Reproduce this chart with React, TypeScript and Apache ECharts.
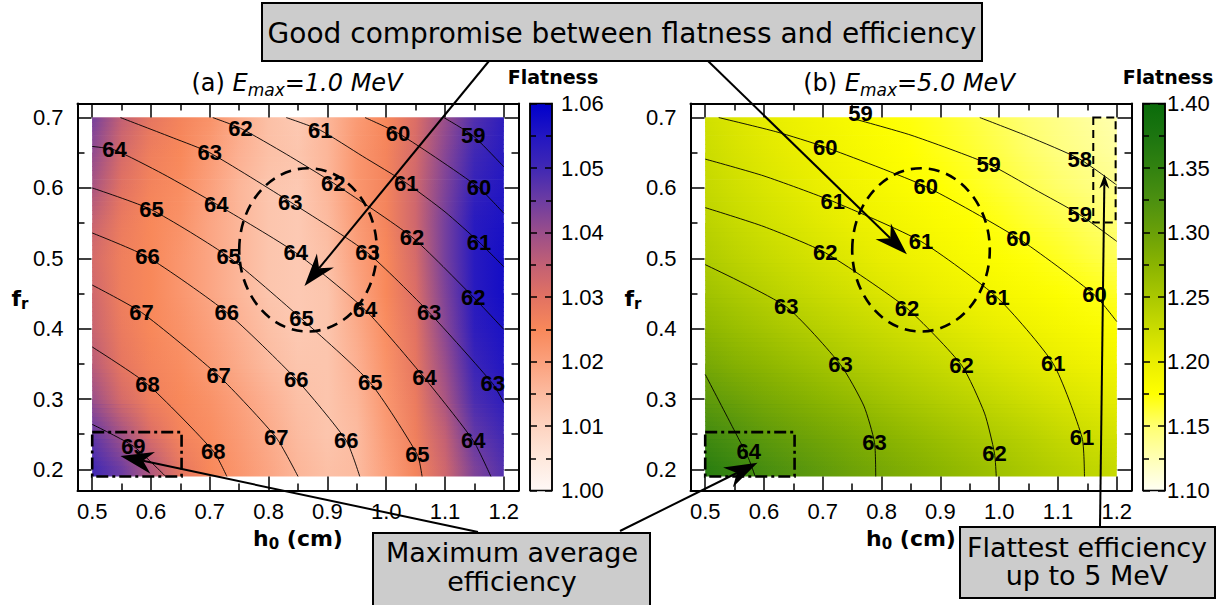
import React, { useEffect, useRef } from 'react';
import * as echarts from 'echarts';

// ---------- data ----------
const H_GRID = [0.5, 0.55, 0.6, 0.65, 0.7, 0.75, 0.8, 0.85, 0.9, 0.95, 1.0, 1.05, 1.1, 1.15, 1.2];
const F_GRID = [0.2, 0.25, 0.3, 0.35, 0.4, 0.45, 0.5, 0.55, 0.6, 0.65, 0.7];

// flatness, panel (a): rows = F_GRID, columns = H_GRID
const FLATNESS_A = [
  [1.050, 1.045, 1.037, 1.029, 1.025, 1.022, 1.019, 1.016, 1.014, 1.015, 1.020, 1.026, 1.033, 1.043, 1.048],
  [1.046, 1.039, 1.031, 1.026, 1.024, 1.021, 1.018, 1.015, 1.013, 1.015, 1.021, 1.027, 1.035, 1.046, 1.050],
  [1.040, 1.032, 1.027, 1.025, 1.023, 1.020, 1.017, 1.014, 1.013, 1.016, 1.022, 1.028, 1.038, 1.049, 1.053],
  [1.036, 1.029, 1.026, 1.024, 1.021, 1.018, 1.015, 1.013, 1.013, 1.017, 1.023, 1.029, 1.040, 1.051, 1.055],
  [1.034, 1.028, 1.025, 1.023, 1.020, 1.017, 1.014, 1.012, 1.013, 1.018, 1.024, 1.030, 1.042, 1.053, 1.056],
  [1.033, 1.027, 1.025, 1.022, 1.019, 1.016, 1.013, 1.012, 1.013, 1.019, 1.025, 1.031, 1.043, 1.054, 1.057],
  [1.032, 1.027, 1.025, 1.022, 1.019, 1.016, 1.013, 1.012, 1.014, 1.020, 1.025, 1.032, 1.044, 1.054, 1.057],
  [1.034, 1.028, 1.025, 1.023, 1.019, 1.016, 1.013, 1.012, 1.015, 1.021, 1.026, 1.033, 1.044, 1.054, 1.056],
  [1.038, 1.030, 1.026, 1.024, 1.020, 1.016, 1.013, 1.012, 1.016, 1.022, 1.026, 1.033, 1.043, 1.052, 1.055],
  [1.041, 1.032, 1.027, 1.025, 1.021, 1.017, 1.014, 1.013, 1.016, 1.022, 1.026, 1.032, 1.042, 1.050, 1.054],
  [1.044, 1.035, 1.029, 1.026, 1.023, 1.018, 1.014, 1.012, 1.016, 1.021, 1.025, 1.031, 1.040, 1.048, 1.053],
];

// flatness, panel (b)
const FLATNESS_B = [
  [1.360, 1.345, 1.330, 1.318, 1.308, 1.298, 1.290, 1.282, 1.274, 1.266, 1.258, 1.250, 1.242, 1.235, 1.228],
  [1.335, 1.322, 1.310, 1.300, 1.292, 1.284, 1.276, 1.268, 1.260, 1.252, 1.245, 1.238, 1.230, 1.223, 1.217],
  [1.310, 1.300, 1.290, 1.282, 1.274, 1.266, 1.258, 1.250, 1.243, 1.236, 1.229, 1.222, 1.215, 1.209, 1.203],
  [1.290, 1.280, 1.272, 1.264, 1.256, 1.248, 1.241, 1.234, 1.227, 1.220, 1.213, 1.207, 1.201, 1.195, 1.190],
  [1.272, 1.263, 1.255, 1.247, 1.240, 1.233, 1.226, 1.219, 1.212, 1.206, 1.200, 1.194, 1.188, 1.183, 1.178],
  [1.258, 1.249, 1.241, 1.233, 1.226, 1.219, 1.212, 1.205, 1.199, 1.193, 1.187, 1.182, 1.177, 1.172, 1.167],
  [1.246, 1.237, 1.229, 1.222, 1.215, 1.208, 1.201, 1.195, 1.189, 1.183, 1.178, 1.173, 1.168, 1.162, 1.157],
  [1.237, 1.228, 1.220, 1.213, 1.206, 1.199, 1.193, 1.187, 1.181, 1.176, 1.171, 1.165, 1.160, 1.154, 1.148],
  [1.230, 1.221, 1.213, 1.206, 1.199, 1.192, 1.186, 1.180, 1.175, 1.170, 1.164, 1.158, 1.152, 1.146, 1.140],
  [1.225, 1.216, 1.208, 1.201, 1.194, 1.187, 1.181, 1.175, 1.170, 1.165, 1.159, 1.152, 1.145, 1.139, 1.132],
  [1.220, 1.211, 1.203, 1.196, 1.189, 1.183, 1.177, 1.172, 1.167, 1.161, 1.155, 1.148, 1.141, 1.134, 1.127],
];

// efficiency contours [level, points [h0, fr]]
const CONTOURS_A: [number, number[][]][] = [
  [59, [[1.098, 0.70], [1.148, 0.674], [1.20, 0.630]]],
  [60, [[0.964, 0.70], [1.020, 0.678], [1.090, 0.640], [1.158, 0.600], [1.20, 0.564]]],
  [61, [[0.830, 0.70], [0.888, 0.682], [0.960, 0.645], [1.034, 0.607], [1.100, 0.566], [1.158, 0.523], [1.20, 0.488]]],
  [62, [[0.705, 0.70], [0.752, 0.685], [0.830, 0.648], [0.910, 0.607], [1.044, 0.530], [1.148, 0.445], [1.20, 0.399]]],
  [63, [[0.548, 0.70], [0.638, 0.671], [0.700, 0.650], [0.837, 0.580], [0.968, 0.508], [1.073, 0.423], [1.181, 0.322], [1.20, 0.295]]],
  [64, [[0.50, 0.659], [0.538, 0.654], [0.620, 0.620], [0.711, 0.577], [0.846, 0.508], [0.964, 0.427], [1.065, 0.330], [1.148, 0.241], [1.178, 0.19]]],
  [65, [[0.50, 0.600], [0.601, 0.569], [0.732, 0.502], [0.856, 0.414], [0.973, 0.323], [1.053, 0.221], [1.061, 0.19]]],
  [66, [[0.50, 0.536], [0.594, 0.502], [0.729, 0.423], [0.847, 0.328], [0.932, 0.241], [0.955, 0.19]]],
  [67, [[0.50, 0.462], [0.584, 0.423], [0.715, 0.333], [0.813, 0.245], [0.850, 0.19]]],
  [68, [[0.50, 0.374], [0.594, 0.321], [0.706, 0.226], [0.729, 0.19]]],
  [69, [[0.50, 0.264], [0.570, 0.233], [0.625, 0.19]]],
];

const CONTOURS_B: [number, number[][]][] = [
  [58, [[0.967, 0.70], [1.050, 0.673], [1.137, 0.641], [1.20, 0.604]]],
  [59, [[0.745, 0.70], [0.850, 0.675], [0.982, 0.634], [1.060, 0.598], [1.137, 0.562], [1.20, 0.524]]],
  [60, [[0.523, 0.70], [0.620, 0.680], [0.704, 0.658], [0.875, 0.602], [1.033, 0.528], [1.162, 0.448], [1.20, 0.410]]],
  [61, [[0.50, 0.641], [0.600, 0.617], [0.717, 0.581], [0.867, 0.524], [0.997, 0.444], [1.092, 0.350], [1.141, 0.245], [1.145, 0.19]]],
  [62, [[0.50, 0.572], [0.600, 0.545], [0.704, 0.508], [0.843, 0.429], [0.936, 0.348], [0.975, 0.280], [0.992, 0.223], [0.995, 0.19]]],
  [63, [[0.50, 0.491], [0.638, 0.431], [0.730, 0.349], [0.770, 0.290], [0.788, 0.238], [0.790, 0.19]]],
  [64, [[0.50, 0.335], [0.546, 0.261], [0.574, 0.215], [0.585, 0.19]]],
];

// contour labels [h0, fr, level]
const LABELS_A = [
  [0.752, 0.685, 62], [0.888, 0.682, 61], [1.020, 0.678, 60], [1.148, 0.674, 59],
  [0.538, 0.654, 64], [0.700, 0.650, 63],
  [0.910, 0.607, 62], [1.034, 0.607, 61], [1.158, 0.600, 60],
  [0.601, 0.569, 65], [0.711, 0.577, 64], [0.837, 0.580, 63],
  [1.044, 0.530, 62], [1.158, 0.523, 61],
  [0.594, 0.502, 66], [0.732, 0.502, 65], [0.846, 0.508, 64], [0.968, 0.508, 63],
  [1.148, 0.445, 62],
  [0.584, 0.423, 67], [0.729, 0.423, 66], [0.856, 0.414, 65], [0.964, 0.427, 64], [1.073, 0.423, 63],
  [0.594, 0.321, 68], [0.715, 0.333, 67], [0.847, 0.328, 66], [0.973, 0.323, 65], [1.065, 0.330, 64], [1.181, 0.322, 63],
  [0.570, 0.233, 69], [0.706, 0.226, 68], [0.813, 0.245, 67], [0.932, 0.241, 66], [1.053, 0.221, 65], [1.148, 0.241, 64],
];

const LABELS_B = [
  [0.764, 0.706, 59], [0.704, 0.658, 60], [0.982, 0.634, 59], [1.137, 0.641, 58],
  [0.875, 0.602, 60], [0.717, 0.581, 61], [1.137, 0.562, 59],
  [0.867, 0.524, 61], [1.033, 0.528, 60], [0.704, 0.508, 62],
  [0.997, 0.444, 61], [1.162, 0.448, 60], [0.638, 0.431, 63], [0.843, 0.429, 62],
  [0.730, 0.349, 63], [0.936, 0.348, 62], [1.092, 0.350, 61],
  [0.788, 0.238, 63], [0.992, 0.223, 62], [1.141, 0.245, 61], [0.574, 0.226, 64],
];

const X_MAJOR = [0.5, 0.6, 0.7, 0.8, 0.9, 1.0, 1.1, 1.2];
const X_MINOR = [0.55, 0.65, 0.75, 0.85, 0.95, 1.05, 1.15];
const Y_MAJOR = [0.2, 0.3, 0.4, 0.5, 0.6, 0.7];
const Y_MINOR = [0.25, 0.35, 0.45, 0.55, 0.65];

const PALETTE_A: [number, string][] = [
  [1.000, '#fff8f6'], [1.005, '#fee8dc'], [1.010, '#fdd3c0'], [1.015, '#fcbba0'],
  [1.020, '#fba07c'], [1.025, '#f8885a'], [1.030, '#e27262'], [1.035, '#c26074'],
  [1.040, '#9a4e8a'], [1.045, '#6c3ca2'], [1.050, '#4028b4'], [1.055, '#2216c2'], [1.060, '#0000cc'],
];
const PALETTE_B: [number, string][] = [
  [1.100, '#fffff4'], [1.125, '#ffffb4'], [1.150, '#ffff70'], [1.175, '#ffff00'],
  [1.200, '#eaee00'], [1.225, '#cadc00'], [1.250, '#aac800'], [1.275, '#8ab400'],
  [1.300, '#6aa008'], [1.325, '#4c9010'], [1.350, '#328210'], [1.375, '#1c7510'], [1.400, '#0a6b0a'],
];

// ---------- helpers ----------
const SANS = "'Liberation Sans', Arial, sans-serif";
const NARROW = "'Liberation Sans Narrow', 'Liberation Sans', Arial, sans-serif";
const DEJAVU = "'DejaVu Sans', sans-serif";
const HEAT_BOTTOM = 0.19;
const SUB = 8;

function hexRgb(h: string) {
  const n = parseInt(h.slice(1), 16);
  return [(n >> 16) & 255, (n >> 8) & 255, n & 255];
}
function colorAt(pal: [number, string][], v: number) {
  if (v <= pal[0][0]) return pal[0][1];
  for (let i = 1; i < pal.length; i++) {
    if (v <= pal[i][0]) {
      const t = (v - pal[i - 1][0]) / (pal[i][0] - pal[i - 1][0]);
      const a = hexRgb(pal[i - 1][1]);
      const b = hexRgb(pal[i][1]);
      const c = a.map((x, k) => Math.round(x + (b[k] - x) * t));
      return `rgb(${c[0]},${c[1]},${c[2]})`;
    }
  }
  return pal[pal.length - 1][1];
}

function heatRender(table: number[][], pal: [number, string][]) {
  const grads = table.map(
    (row) =>
      new echarts.graphic.LinearGradient(
        0, 0, 1, 0,
        row.map((v, j) => ({ offset: j / (row.length - 1), color: colorAt(pal, v) }))
      )
  );
  return (params: any, api: any) => {
    const i = api.value(0);
    const h0 = H_GRID[0];
    const h1 = H_GRID[H_GRID.length - 1];
    const x0 = api.coord([h0, F_GRID[0]])[0];
    const x1 = api.coord([h1, F_GRID[0]])[0];
    const w = x1 - x0;
    const children: any[] = [];
    if (i === 0) {
      const yA = api.coord([h0, F_GRID[0]])[1];
      const yB = api.coord([h0, HEAT_BOTTOM])[1];
      children.push({ type: 'rect', shape: { x: x0, y: yA - 0.5, width: w, height: yB - yA + 0.5 }, style: { fill: grads[0] } });
    }
    if (i < F_GRID.length - 1) {
      const fa = F_GRID[i];
      const fb = F_GRID[i + 1];
      for (let k = 0; k < SUB; k++) {
        const lo = fa + ((fb - fa) * k) / SUB;
        const hi = fa + ((fb - fa) * (k + 1)) / SUB;
        const yHi = api.coord([h0, hi])[1];
        const yLo = api.coord([h0, lo])[1];
        const shape = { x: x0, y: yHi, width: w, height: yLo - yHi + 0.7 };
        children.push({ type: 'rect', shape, style: { fill: grads[i] } });
        children.push({ type: 'rect', shape: { ...shape }, style: { fill: grads[i + 1], opacity: (k + 0.5) / SUB } });
      }
    }
    return { type: 'group', children };
  };
}

function cbarRender(pal: [number, string][], min: number, max: number) {
  const grad = new echarts.graphic.LinearGradient(
    0, 1, 0, 0,
    pal.map(([v, c]) => ({ offset: (v - min) / (max - min), color: c }))
  );
  return (params: any, api: any) => {
    const p0 = api.coord([0, max]);
    const p1 = api.coord([1, min]);
    return {
      type: 'rect',
      shape: { x: p0[0], y: p0[1], width: p1[0] - p0[0], height: p1[1] - p0[1] },
      style: { fill: grad, stroke: '#000', lineWidth: 1.5 },
    };
  };
}

const lineBlack = { color: '#000', width: 2 };
const tickBlack = { color: '#000', width: 1.5 };

function panelXAxes(gridIndex: number) {
  const c = { gridIndex, type: 'value', min: 0.475, max: 1.225, splitLine: { show: false }, z: 5 };
  return [
    {
      ...c, position: 'bottom',
      axisLine: { show: true, onZero: false, lineStyle: lineBlack },
      axisTick: { show: true, inside: true, length: 14, customValues: X_MAJOR, lineStyle: tickBlack },
      axisLabel: { show: true, customValues: X_MAJOR, formatter: (v: number) => v.toFixed(1), fontSize: 22, fontFamily: SANS, color: '#000', margin: 10 },
    },
    {
      ...c, position: 'top',
      axisLine: { show: true, onZero: false, lineStyle: lineBlack },
      axisTick: { show: true, inside: true, length: 14, customValues: X_MAJOR, lineStyle: tickBlack },
      axisLabel: { show: false },
    },
    {
      ...c, position: 'bottom',
      axisLine: { show: false, onZero: false },
      axisTick: { show: true, inside: true, length: 7, customValues: X_MINOR, lineStyle: tickBlack },
      axisLabel: { show: false },
    },
    {
      ...c, position: 'top',
      axisLine: { show: false, onZero: false },
      axisTick: { show: true, inside: true, length: 7, customValues: X_MINOR, lineStyle: tickBlack },
      axisLabel: { show: false },
    },
  ];
}

function panelYAxes(gridIndex: number) {
  const c = { gridIndex, type: 'value', min: 0.17, max: 0.72, splitLine: { show: false }, z: 5 };
  return [
    {
      ...c, position: 'left',
      axisLine: { show: true, onZero: false, lineStyle: lineBlack },
      axisTick: { show: true, inside: true, length: 14, customValues: Y_MAJOR, lineStyle: tickBlack },
      axisLabel: { show: true, customValues: Y_MAJOR, formatter: (v: number) => v.toFixed(1), fontSize: 22, fontFamily: SANS, color: '#000', margin: 14 },
    },
    {
      ...c, position: 'right',
      axisLine: { show: true, onZero: false, lineStyle: lineBlack },
      axisTick: { show: true, inside: true, length: 14, customValues: Y_MAJOR, lineStyle: tickBlack },
      axisLabel: { show: false },
    },
    {
      ...c, position: 'left',
      axisLine: { show: false, onZero: false },
      axisTick: { show: true, inside: true, length: 7, customValues: Y_MINOR, lineStyle: tickBlack },
      axisLabel: { show: false },
    },
    {
      ...c, position: 'right',
      axisLine: { show: false, onZero: false },
      axisTick: { show: true, inside: true, length: 7, customValues: Y_MINOR, lineStyle: tickBlack },
      axisLabel: { show: false },
    },
  ];
}

function cbarYAxes(gridIndex: number, min: number, max: number, interval: number, margin: number) {
  const c = {
    gridIndex, type: 'value', min, max, interval, splitLine: { show: false }, z: 5,
    axisLine: { show: true, onZero: false, lineStyle: { color: '#000', width: 1.5 } },
    axisTick: { show: true, inside: true, length: 7, lineStyle: tickBlack },
    minorTick: { show: true, splitNumber: 2, length: 6, lineStyle: tickBlack },
    minorSplitLine: { show: false },
  };
  return [
    { ...c, position: 'right', axisLabel: { show: true, formatter: (v: number) => v.toFixed(2), fontSize: 22, fontFamily: SANS, color: '#000', margin } },
    { ...c, position: 'left', axisLabel: { show: false } },
  ];
}

function contourSeries(list: [number, number[][]][], xi: number, yi: number) {
  return list.map(([level, pts]) => ({
    type: 'line', name: `eff ${level}`, xAxisIndex: xi, yAxisIndex: yi, data: pts,
    symbol: 'none', showSymbol: false, smooth: 0.2, silent: true, z: 3,
    lineStyle: { color: '#000', width: 0.9 },
  }));
}

function labelSeries(list: number[][], xi: number, yi: number) {
  return {
    type: 'custom', xAxisIndex: xi, yAxisIndex: yi, data: list, silent: true, z: 4,
    renderItem: (params: any, api: any) => {
      const c = api.coord([api.value(0), api.value(1)]);
      return {
        type: 'text', x: c[0], y: c[1],
        style: {
          text: String(api.value(2)), fill: '#000', fontFamily: NARROW, fontWeight: 'bold', fontSize: 22,
          align: 'center', verticalAlign: 'middle', textAlign: 'center', textVerticalAlign: 'middle',
        },
      };
    },
  };
}

function buildOption() {
  const rows = F_GRID.map((f, i) => [i]);
  return {
    animation: false,
    backgroundColor: '#ffffff',
    grid: [
      { left: 77.5, top: 103.5, width: 441, height: 387 },
      { left: 530, top: 103.5, width: 22, height: 387 },
      { left: 690.5, top: 103.5, width: 441, height: 387 },
      { left: 1143, top: 103.5, width: 22, height: 387 },
    ],
    xAxis: [
      ...panelXAxes(0),
      { gridIndex: 1, type: 'value', min: 0, max: 1, show: false },
      ...panelXAxes(2),
      { gridIndex: 3, type: 'value', min: 0, max: 1, show: false },
    ],
    yAxis: [
      ...panelYAxes(0),
      ...cbarYAxes(1, 1.0, 1.06, 0.01, 9),
      ...panelYAxes(2),
      ...cbarYAxes(3, 1.1, 1.4, 0.05, 2),
    ],
    series: [
      { type: 'custom', name: 'flatness a', xAxisIndex: 0, yAxisIndex: 0, data: rows, renderItem: heatRender(FLATNESS_A, PALETTE_A), silent: true, z: 1 },
      ...contourSeries(CONTOURS_A, 0, 0),
      labelSeries(LABELS_A, 0, 0),
      { type: 'custom', name: 'cbar a', xAxisIndex: 4, yAxisIndex: 4, data: [[0]], renderItem: cbarRender(PALETTE_A, 1.0, 1.06), silent: true, z: 1 },
      { type: 'custom', name: 'flatness b', xAxisIndex: 5, yAxisIndex: 6, data: rows, renderItem: heatRender(FLATNESS_B, PALETTE_B), silent: true, z: 1 },
      ...contourSeries(CONTOURS_B, 5, 6),
      labelSeries(LABELS_B, 5, 6),
      { type: 'custom', name: 'cbar b', xAxisIndex: 9, yAxisIndex: 10, data: [[0]], renderItem: cbarRender(PALETTE_B, 1.1, 1.4), silent: true, z: 1 },
    ],
  };
}

// ---------- annotations ----------
function arrowEls(sx: number, sy: number, tx: number, ty: number, L: number, W: number) {
  const dx = sx - tx;
  const dy = sy - ty;
  const len = Math.hypot(dx, dy);
  const ux = dx / len;
  const uy = dy / len;
  const nx = -uy;
  const ny = ux;
  const bx = tx + ux * L;
  const by = ty + uy * L;
  const notch = [tx + ux * L * 0.7, ty + uy * L * 0.7];
  return [
    { type: 'line', z: 100, shape: { x1: sx, y1: sy, x2: notch[0], y2: notch[1] }, style: { stroke: '#000', lineWidth: 2 } },
    { type: 'polygon', z: 100, shape: { points: [[tx, ty], [bx + nx * W, by + ny * W], notch, [bx - nx * W, by - ny * W]] }, style: { fill: '#000' } },
  ];
}

function textEl(x: number, y: number, text: string, extra: any) {
  return {
    type: 'text', x, y, z: 102,
    style: { text, fill: '#000', align: 'center', verticalAlign: 'middle', textAlign: 'center', textVerticalAlign: 'middle', ...extra },
  };
}

function buildGraphics(chart: any) {
  const pa = (p: number[]) => chart.convertToPixel({ xAxisIndex: 0, yAxisIndex: 0 }, p);
  const pb = (p: number[]) => chart.convertToPixel({ xAxisIndex: 5, yAxisIndex: 6 }, p);
  const els: any[] = [];

  const circle = (conv: any) => {
    const c = conv([0.867, 0.512]);
    const e = conv([0.867 + 0.117, 0.512 + 0.116]);
    return { type: 'ellipse', z: 99, shape: { cx: c[0], cy: c[1], rx: e[0] - c[0], ry: c[1] - e[1] }, style: { fill: 'none', stroke: '#000', lineWidth: 2.6, lineDash: [11, 7] } };
  };
  const box = (conv: any, a: number[], b: number[], dash: number[], lw: number) => {
    const p = conv(a);
    const q = conv(b);
    return { type: 'rect', z: 99, shape: { x: p[0], y: p[1], width: q[0] - p[0], height: q[1] - p[1] }, style: { fill: 'none', stroke: '#000', lineWidth: lw, lineDash: dash } };
  };
  els.push(circle(pa), circle(pb));
  els.push(box(pa, [0.5, 0.253], [0.652, 0.19], [12, 4, 3, 4], 2.6));
  els.push(box(pb, [0.5, 0.253], [0.652, 0.19], [12, 4, 3, 4], 2.6));
  els.push(box(pb, [1.16, 0.70], [1.198, 0.551], [8, 5], 2));

  const tA1 = pa([0.861, 0.4605]);
  const tB1 = pb([0.843, 0.5056]);
  const tA2 = pa([0.548, 0.219]);
  const tB2 = pb([0.589, 0.2095]);
  const tB3 = pb([1.179, 0.619]);
  els.push(...arrowEls(489, 61, tA1[0], tA1[1], 33, 11));
  els.push(...arrowEls(708, 61, tB1[0], tB1[1], 33, 11));
  els.push(...arrowEls(478, 532, tA2[0], tA2[1], 33, 11));
  els.push(...arrowEls(620, 531, tB2[0], tB2[1], 33, 11));
  els.push(...arrowEls(1100, 527, tB3[0], tB3[1], 14, 5));

  // boxes
  els.push({ type: 'rect', z: 101, shape: { x: 262, y: 3, width: 720, height: 58 }, style: { fill: '#cccccc', stroke: '#000', lineWidth: 2 } });
  els.push(textEl(622, 33, 'Good compromise between flatness and efficiency', { fontFamily: DEJAVU, fontSize: 28 }));
  els.push({ type: 'rect', z: 101, shape: { x: 373, y: 533, width: 277, height: 80 }, style: { fill: '#cccccc', stroke: '#000', lineWidth: 2 } });
  els.push(textEl(512, 552, 'Maximum average', { fontFamily: DEJAVU, fontSize: 27 }));
  els.push(textEl(512, 581, 'efficiency', { fontFamily: DEJAVU, fontSize: 27 }));
  els.push({ type: 'rect', z: 101, shape: { x: 960, y: 527, width: 255, height: 71 }, style: { fill: '#cccccc', stroke: '#000', lineWidth: 2 } });
  els.push(textEl(1087, 547, 'Flattest efficiency', { fontFamily: DEJAVU, fontSize: 27 }));
  els.push(textEl(1087, 575, 'up to 5 MeV', { fontFamily: DEJAVU, fontSize: 27 }));

  // titles
  const titleRich = {
    n: { fontFamily: DEJAVU, fontSize: 24, lineHeight: 30, fill: '#000' },
    i: { fontFamily: DEJAVU, fontSize: 24, fontStyle: 'italic', lineHeight: 30, fill: '#000' },
    s: { fontFamily: DEJAVU, fontSize: 17, fontStyle: 'italic', lineHeight: 18, verticalAlign: 'bottom', fill: '#000' },
  };
  els.push(textEl(297, 83, '{n|(a) }{i|E}{s|max}{i|=1.0 MeV}', { rich: titleRich }));
  els.push(textEl(909, 83, '{n|(b) }{i|E}{s|max}{i|=5.0 MeV}', { rich: titleRich }));
  els.push(textEl(553, 76.5, 'Flatness', { fontFamily: DEJAVU, fontSize: 19, fontWeight: 'bold' }));
  els.push(textEl(1168, 76.5, 'Flatness', { fontFamily: DEJAVU, fontSize: 19, fontWeight: 'bold' }));

  const nameRich = {
    b: { fontFamily: DEJAVU, fontSize: 22, fontWeight: 'bold', lineHeight: 26, fill: '#000' },
    s: { fontFamily: DEJAVU, fontSize: 15, fontWeight: 'bold', lineHeight: 16, verticalAlign: 'bottom', fill: '#000' },
  };
  els.push(textEl(298, 538, '{b|h}{s|0}{b| (cm)}', { rich: nameRich }));
  els.push(textEl(911, 538, '{b|h}{s|0}{b| (cm)}', { rich: nameRich }));
  els.push(textEl(20, 298, '{b|f}{s|r}', { rich: nameRich }));
  els.push(textEl(633, 298, '{b|f}{s|r}', { rich: nameRich }));
  return els;
}

export default function App() {
  const ref = useRef<HTMLDivElement>(null);
  useEffect(() => {
    if (!ref.current) return;
    const chart = echarts.init(ref.current, null, { renderer: 'svg' });
    chart.setOption(buildOption() as any);
    chart.setOption({ graphic: buildGraphics(chart) } as any);
    return () => chart.dispose();
  }, []);
  return (
    <div
      ref={ref}
      style={{ position: 'fixed', left: 0, top: 0, width: 1228, height: 605, background: '#ffffff' }}
    />
  );
}
